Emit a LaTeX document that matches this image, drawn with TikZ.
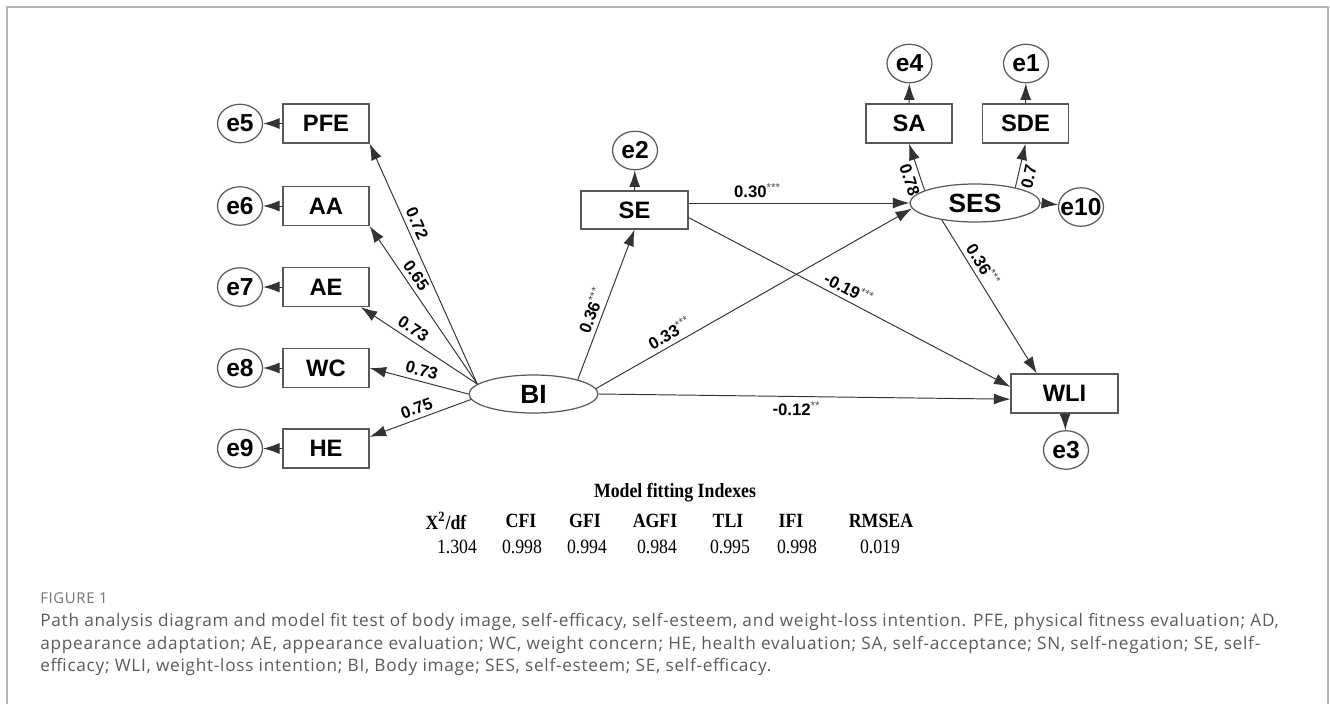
\documentclass[tikz,border=0pt]{standalone}
\usepackage{fontspec}
\setmainfont{Liberation Sans}
\newfontfamily\tabfont[FakeStretch=0.88]{Liberation Serif}
\newfontfamily\capfont[LetterSpace=4.2]{Open Sans}
\usetikzlibrary{arrows.meta, shapes.geometric}
\definecolor{capgray}{HTML}{5A5A5A}
\definecolor{framegray}{HTML}{B4B4B4}
\tikzset{
    obs/.style={draw=black!65, line width=0.7pt, minimum width=1.72cm, minimum height=0.78cm, inner sep=0pt, font=\fontsize{13.5}{13.5}\selectfont\bfseries},
    lat/.style={ellipse, draw=black!65, line width=0.7pt, minimum height=0.76cm, inner sep=0pt, font=\fontsize{15}{15}\selectfont\bfseries},
    err/.style={ellipse, draw=black!65, line width=0.7pt, minimum width=0.9cm, minimum height=0.77cm, inner sep=-5pt, font=\fontsize{14}{14}\selectfont\bfseries},
    link/.style={draw=black!80, line width=0.55pt, -{Latex[length=0.33cm, width=0.22cm]}},
    coef/.style={sloped, font=\fontsize{9.5}{9.5}\selectfont\bfseries, inner sep=1.5pt},
    tabhead/.style={font=\tabfont\bfseries\fontsize{11.5}{11.5}\selectfont},
    tabval/.style={font=\tabfont\fontsize{11.5}{11.5}\selectfont},
    capline/.style={anchor=west, inner sep=0pt, text=capgray, font=\capfont\fontsize{9.8}{12}\selectfont},
}
\newcommand\sig[1]{\raisebox{0.36em}{\fontsize{6.5}{6.5}\selectfont\mdseries\textcolor{black!70}{#1}}}

\begin{document}
\begin{tikzpicture}[x=0.02cm, y=-0.02cm]
    \useasboundingbox (0,0) rectangle (1330,704);
    \draw[framegray, line width=1.1pt] (7,704) -- (7,7) -- (1328,7) -- (1328,704);

    \newcommand\colErr{240}
    \newcommand\colObs{326}

    % body image indicators
    \node[obs] (PFE) at (\colObs,123.5){PFE};
    \node[obs] (AA) at (\colObs,206){AA};
    \node[obs] (AE) at (\colObs,287){AE};
    \node[obs] (WC) at (\colObs,368){WC};
    \node[obs] (HE) at (\colObs,448.5){HE};
    \node[err] (e5) at (\colErr,123.5){e5};
    \node[err] (e6) at (\colErr,206){e6};
    \node[err] (e7) at (\colErr,287){e7};
    \node[err] (e8) at (\colErr,368){e8};
    \node[err] (e9) at (\colErr,448.5){e9};

    \node[lat, minimum width=2.58cm] (BI) at (533.5,394){BI};
    \node[obs, minimum width=2.14cm, minimum height=0.76cm] (SE) at (634.5,210){SE};
    \node[err] (e2) at (635,150.5){e2};

    % self-esteem
    \node[lat, minimum width=2.6cm] (SES) at (975,203){SES};
    \node[obs] (SA) at (909,123.5){SA};
    \node[obs] (SDE) at (1025.5,123.5){SDE};
    \node[err] (e4) at (909.5,63.5){e4};
    \node[err] (e1) at (1026,63.5){e1};
    \node[err] (e10) at (1081,207){e10};

    \node[obs, minimum width=2.14cm] (WLI) at (1064.5,393.5){WLI};
    \node[err] (e3) at (1066,450){e3};

    \draw[link] (PFE) -- (e5);
    \draw[link] (AA) -- (e6);
    \draw[link] (AE) -- (e7);
    \draw[link] (WC) -- (e8);
    \draw[link] (HE) -- (e9);
    \draw[link] (SE) -- (e2);
    \draw[link] (SA) -- (e4);
    \draw[link] (SDE) -- (e1);
    \draw[link] (SES.east) -- (e10);
    \draw[link] (WLI) -- (e3);

    \draw[link] (BI.170) -- (PFE.south east) node[coef, pos=0.65, above=1pt]{0.72};
    \draw[link] (BI.170) -- (AA.south east) node[coef, pos=0.65, above=1pt]{0.65};
    \draw[link] (BI.170) -- (AE.-30) node[coef, pos=0.6, above=1pt]{0.73};
    \draw[link] (BI.180) -- (WC.east) node[coef, pos=0.5, above=1pt]{0.73};
    \draw[link] (BI.185) -- (HE.15) node[coef, pos=0.5, above=1pt]{0.75};

    \draw[link] (BI.18) -- (SE.south) node[coef, pos=0.43, above=1pt]{0.36\sig{***}};
    \draw[link] (BI.5) -- (SES.185) node[coef, pos=0.25, above=1pt]{0.33\sig{***}};
    \draw[link] (BI.east) -- (WLI.186) node[coef, pos=0.48, below=1pt]{-0.12\sig{**}};
    \draw[link] (SE.east |- SES.west) -- (SES.west) node[coef, pos=0.31, above=1pt]{0.30\sig{***}};
    \draw[link] (SE.-8) -- (WLI.173) node[coef, pos=0.48, above=1pt]{-0.19\sig{***}};
    \draw[link] (SES.207) -- (WLI.144) node[coef, pos=0.33, above=1pt]{0.36\sig{***}};
    \draw[link] (SES.166) -- (SA.south) node[coef, pos=0.3, below=1pt]{0.78};
    \draw[link] (SES.21) -- (SDE.south) node[coef, pos=0.3, below=1pt]{0.7};

    % fit indexes
    \node[tabhead] (fitTitle) at (675,493){Model fitting Indexes};
    \node[tabhead] (hChi) at (446,521){X\textsuperscript{2}/df};
    \node[tabhead] (hCFI) at (521,521){CFI};
    \node[tabhead] (hGFI) at (585,521){GFI};
    \node[tabhead] (hAGFI) at (655,521){AGFI};
    \node[tabhead] (hTLI) at (728,521){TLI};
    \node[tabhead] (hIFI) at (791,521){IFI};
    \node[tabhead] (hRMSEA) at (881,521){RMSEA};
    \node[tabval] (vChi) at (457,547){1.304};
    \node[tabval] (vCFI) at (522,547){0.998};
    \node[tabval] (vGFI) at (587,547){0.994};
    \node[tabval] (vAGFI) at (657,547){0.984};
    \node[tabval] (vTLI) at (730,547){0.995};
    \node[tabval] (vIFI) at (797,547){0.998};
    \node[tabval] (vRMSEA) at (880,547){0.019};

    % caption
    \node[capline, text=black!55, font=\capfont\fontsize{8.5}{9}\selectfont] (figLab) at (40,598){FIGURE 1};
    \node[capline] (capA) at (40,622){Path analysis diagram and model fit test of body image, self-efficacy, self-esteem, and weight-loss intention. PFE, physical fitness evaluation; AD,};
    \node[capline] (capB) at (40,645){appearance adaptation; AE, appearance evaluation; WC, weight concern; HE, health evaluation; SA, self-acceptance; SN, self-negation; SE, self-};
    \node[capline] (capC) at (40,667){efficacy; WLI, weight-loss intention; BI, Body image; SES, self-esteem; SE, self-efficacy.};
\end{tikzpicture}
\end{document}
